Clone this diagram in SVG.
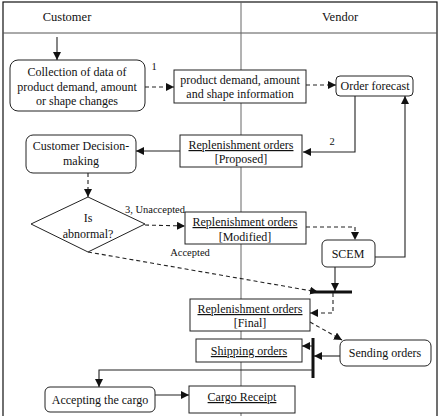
<svg xmlns="http://www.w3.org/2000/svg" width="445" height="416" viewBox="0 0 445 416">
<style>
text{font-family:"Liberation Serif","Times New Roman",serif;font-size:12px;fill:#111;text-anchor:middle}
.hd{font-size:12.5px}
.sm{font-size:10.5px}
.box{fill:#fff;stroke:#222;stroke-width:1}
.ln{fill:none;stroke:#222;stroke-width:1.1}
.ds{fill:none;stroke:#222;stroke-width:1.1;stroke-dasharray:4,3}
.bar{stroke:#111;stroke-width:3}
</style>
<defs>
<marker id="ah" viewBox="0 0 10 10" refX="10" refY="5" markerWidth="8" markerHeight="8" markerUnits="userSpaceOnUse" orient="auto"><path d="M0,0L10,5L0,10z" fill="#111"/></marker>
</defs>
<rect x="0" y="0" width="445" height="416" fill="#fff"/>
<g id="frame">
<rect x="3" y="2" width="434" height="420" fill="none" stroke="#111" stroke-width="1.2"/>
<line x1="3" y1="33" x2="437" y2="33" stroke="#555" stroke-width="1"/>
<line x1="241" y1="2" x2="241" y2="416" stroke="#666" stroke-width="1"/>
<text class="hd" x="67" y="21">Customer</text>
<text class="hd" x="340" y="21">Vendor</text>
</g>
<g id="connectors">
<line class="ln" x1="57" y1="37" x2="57" y2="60" marker-end="url(#ah)"/>
<line class="ds" x1="145" y1="87" x2="174" y2="87" marker-end="url(#ah)"/>
<line class="ds" x1="306" y1="85" x2="336" y2="85" marker-end="url(#ah)"/>
<polyline class="ln" points="355,96 355,152 303,152" marker-end="url(#ah)"/>
<line class="ln" x1="180" y1="151" x2="136" y2="151" marker-end="url(#ah)"/>
<line class="ds" x1="88" y1="173" x2="88" y2="197" marker-end="url(#ah)"/>
<line class="ds" x1="145" y1="225" x2="185" y2="226" marker-end="url(#ah)"/>
<polyline class="ds" points="306,227 355,227 355,240" marker-end="url(#ah)"/>
<polyline class="ln" points="375,257 405,257 405,96" marker-end="url(#ah)"/>
<line class="ds" x1="88" y1="252" x2="318" y2="292" marker-end="url(#ah)"/>
<line class="ln" x1="335" y1="267" x2="335" y2="291" marker-end="url(#ah)"/>
<line class="bar" x1="310" y1="292" x2="352" y2="292"/>
<polyline class="ds" points="333,293 333,313 310,313" marker-end="url(#ah)"/>
<line class="ds" x1="310" y1="322" x2="342" y2="340" marker-end="url(#ah)"/>
<line class="ln" x1="340" y1="356" x2="314" y2="356" marker-end="url(#ah)"/>
<line class="bar" x1="313" y1="338" x2="313" y2="378"/>
<line class="ln" x1="313" y1="346" x2="302" y2="346" marker-end="url(#ah)"/>
<polyline class="ln" points="313,370 99,370 99,387" marker-end="url(#ah)"/>
<line class="ln" x1="155" y1="395" x2="189" y2="395" marker-end="url(#ah)"/>
<text class="sm" x="154" y="70">1</text>
<text class="sm" x="332" y="145">2</text>
<text class="sm" x="155" y="213">3, Unaccepted</text>
<text class="sm" x="190" y="256">Accepted</text>
</g>
<g id="collection">
<rect class="box" x="10" y="60" width="135" height="51" rx="8"/>
<text x="77" y="76">Collection of data of</text>
<text x="77" y="91">product demand, amount</text>
<text x="77" y="105">or shape changes</text>
</g>
<g id="productinfo">
<rect class="box" x="174" y="70" width="132" height="33"/>
<text x="240" y="84">product demand, amount</text>
<text x="240" y="98">and shape information</text>
</g>
<g id="orderforecast">
<rect class="box" x="336" y="76" width="77" height="20" rx="4"/>
<text x="375" y="90">Order forecast</text>
</g>
<g id="proposed">
<rect class="box" x="180" y="135" width="122" height="32"/>
<text x="241" y="149" text-decoration="underline">Replenishment orders</text>
<text x="241" y="163">[Proposed]</text>
</g>
<g id="decision">
<rect class="box" x="26" y="135" width="110" height="38" rx="7"/>
<text x="81" y="150">Customer Decision-</text>
<text x="81" y="165">making</text>
</g>
<g id="abnormal">
<polygon class="box" points="88,197 145,224 88,252 31,224"/>
<text x="88" y="222">Is</text>
<text x="88" y="238">abnormal?</text>
</g>
<g id="modified">
<rect class="box" x="185" y="212" width="121" height="32"/>
<text x="245" y="226" text-decoration="underline">Replenishment orders</text>
<text x="245" y="241">[Modified]</text>
</g>
<g id="scem">
<rect class="box" x="322" y="240" width="53" height="27" rx="5"/>
<text x="348" y="258">SCEM</text>
</g>
<g id="final">
<rect class="box" x="190" y="299" width="120" height="32"/>
<text x="250" y="313" text-decoration="underline">Replenishment orders</text>
<text x="250" y="327">[Final]</text>
</g>
<g id="sending">
<rect class="box" x="340" y="340" width="91" height="26" rx="6"/>
<text x="385" y="357">Sending orders</text>
</g>
<g id="shipping">
<rect class="box" x="196" y="339" width="106" height="23"/>
<text x="249" y="355" text-decoration="underline">Shipping orders</text>
</g>
<g id="accepting">
<rect class="box" x="45" y="387" width="110" height="25" rx="5"/>
<text x="100" y="404">Accepting the cargo</text>
</g>
<g id="receipt">
<rect class="box" x="189" y="386" width="106" height="27"/>
<text x="242" y="401" text-decoration="underline">Cargo Receipt</text>
</g>
</svg>
